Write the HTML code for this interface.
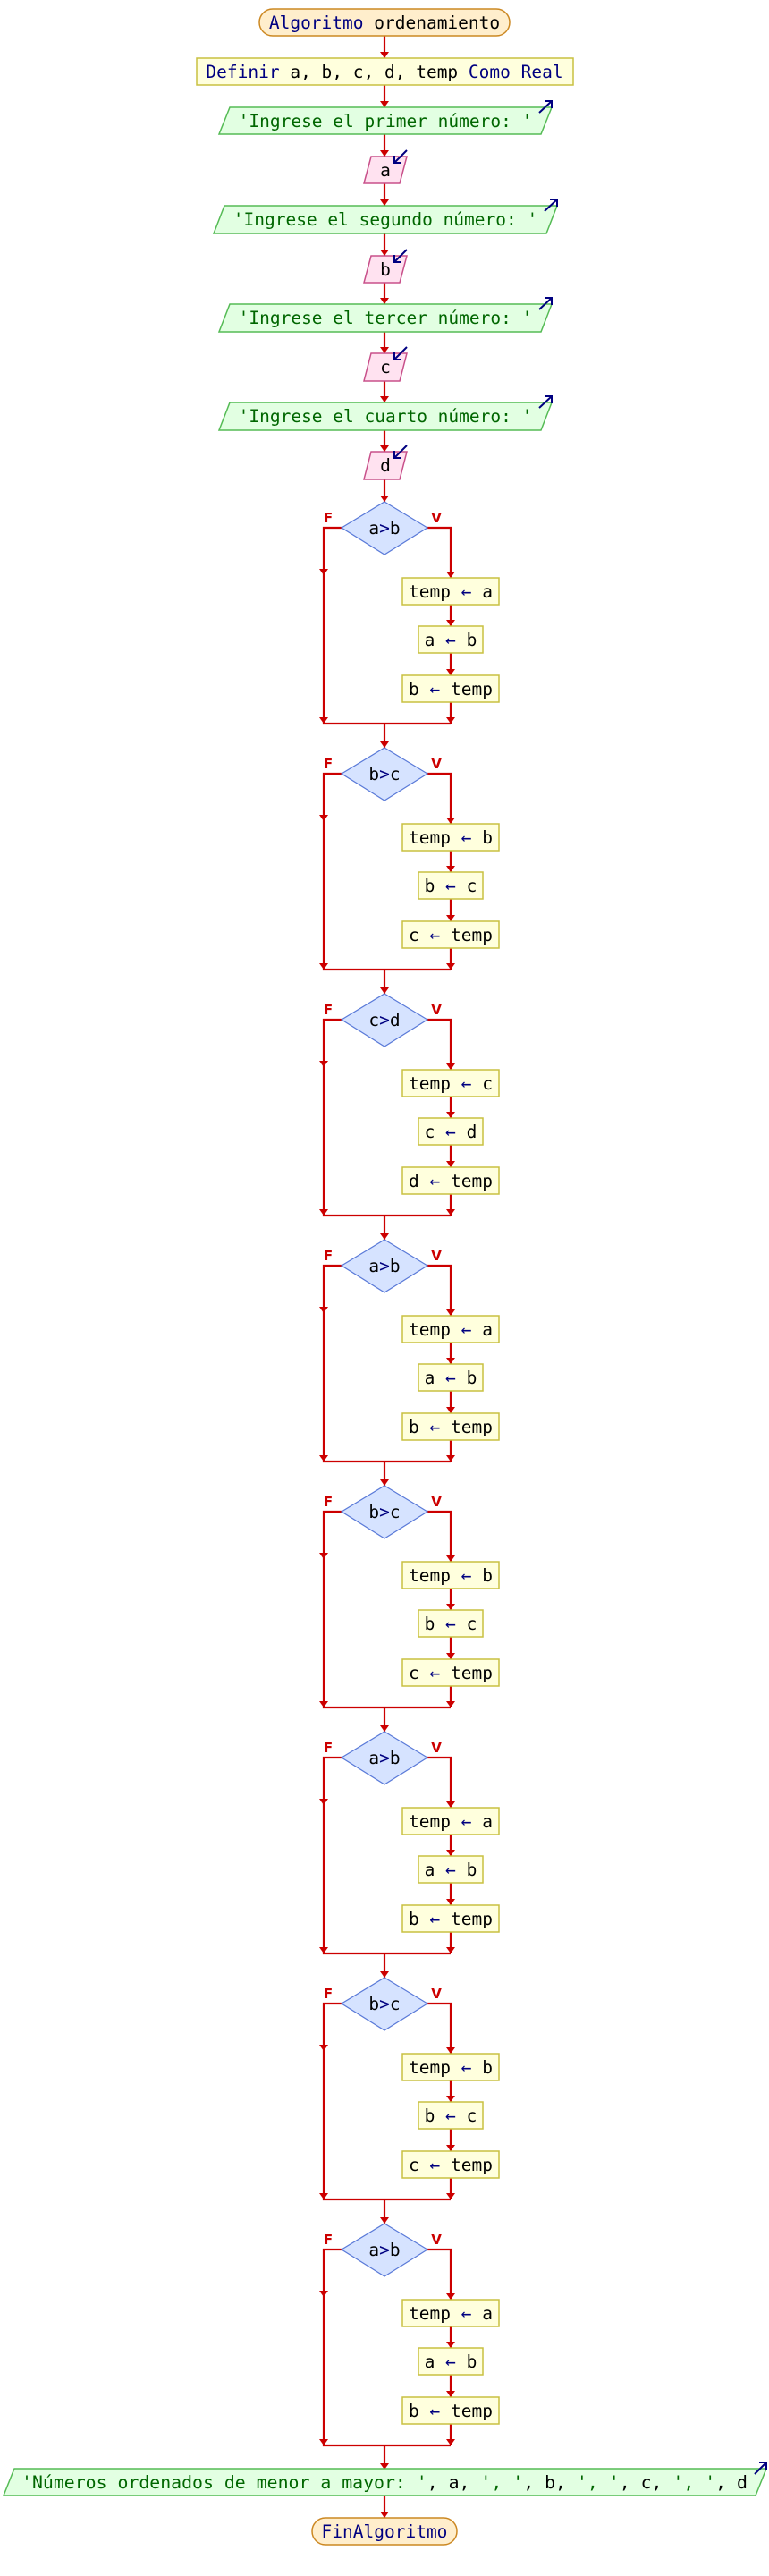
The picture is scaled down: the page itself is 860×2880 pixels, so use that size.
<!DOCTYPE html>
<html><head><meta charset="utf-8"><style>
html,body{margin:0;padding:0;background:#fff}
svg{display:block}
text{font-family:"DejaVu Sans Mono","Liberation Mono",monospace;font-size:19.5px}
.fl{fill:none;stroke:#cc0000;stroke-width:2.2}
.bx{fill:#ffffdd;stroke:#c8c040;stroke-width:1.5}
.dm{fill:#d6e3ff;stroke:#5a7ad8;stroke-width:1.2}
.out{fill:#e2ffe2;stroke:#55bb55;stroke-width:1.5}
.inp{fill:#ffe2f0;stroke:#c8508a;stroke-width:1.5}
.ov{fill:#ffeecc;stroke:#cc8822;stroke-width:1.5}
.k{fill:#000080}
.g{fill:#006600}
.lb{fill:#cc0000;font-family:"DejaVu Sans","Liberation Sans",sans-serif;font-weight:bold;font-size:15px}
.ar{stroke:#000080;stroke-width:2;fill:none}
</style></head><body>
<svg width="860" height="2880" viewBox="0 0 860 2880" xmlns="http://www.w3.org/2000/svg">
<defs>
<marker id="ah" markerWidth="10" markerHeight="8" refX="5" refY="7" orient="auto" markerUnits="userSpaceOnUse" viewBox="0 0 10 8">
</marker>
<path id="tri" d="M-5,-7 L5,-7 L0,0 Z" fill="#cc0000"/>
<g id="blk">
  <path class="fl" d="M382,0 H362 V219 H504 M478,0 H504 V56 M504,86 V110 M504,140 V165 M504,195 V219 M430,219 V246"/>
  <use href="#tri" x="362" y="53"/>
  <use href="#tri" x="362" y="219"/>
  <use href="#tri" x="504" y="56"/>
  <use href="#tri" x="504" y="110"/>
  <use href="#tri" x="504" y="165"/>
  <use href="#tri" x="504" y="219"/>
  <use href="#tri" x="430" y="246"/>
  <polygon class="dm" points="430,-29 478,0 430,30 382,0"/>
  <rect class="bx" x="450" y="56" width="108" height="30"/>
  <rect class="bx" x="468" y="110" width="72" height="30"/>
  <rect class="bx" x="450" y="165" width="108" height="30"/>
  <text class="lb" x="367" y="-6" text-anchor="middle">F</text>
  <text class="lb" x="488" y="-6" text-anchor="middle">V</text>
</g>
</defs>

<!-- top section -->
<path class="fl" d="M430,40 V65 M430,95 V120 M430,150 V175 M430,205 V230 M430,261 V286 M430,316 V340 M430,371 V395 M430,426 V450 M430,481 V505 M430,536 V561"/>
<use href="#tri" x="430" y="65"/><use href="#tri" x="430" y="120"/><use href="#tri" x="430" y="175"/>
<use href="#tri" x="430" y="230"/><use href="#tri" x="430" y="286"/><use href="#tri" x="430" y="340"/>
<use href="#tri" x="430" y="395"/><use href="#tri" x="430" y="450"/><use href="#tri" x="430" y="505"/>
<use href="#tri" x="430" y="561"/>

<rect class="ov" x="290" y="10" width="280" height="30" rx="15"/>
<text x="430" y="32" text-anchor="middle"><tspan class="k">Algoritmo</tspan> ordenamiento</text>

<rect class="bx" x="220" y="65" width="421" height="30"/>
<text x="430" y="87" text-anchor="middle"><tspan class="k">Definir</tspan> a, b, c, d, temp <tspan class="k">Como Real</tspan></text>

<polygon class="out" points="257,120 617,120 605,150 245,150"/>
<text class="g" x="431" y="142" text-anchor="middle">'Ingrese el primer número: '</text>
<path class="ar" d="M603,126 L617,113 M609,113 H617 V121"/>

<polygon class="inp" points="415,175 455,175 447,205 407,205"/>
<text x="431" y="197" text-anchor="middle">a</text>
<path class="ar" d="M455,168 L441,182 M441,174 V182 H449"/>

<polygon class="out" points="251,230 623,230 611,261 239,261"/>
<text class="g" x="431" y="252" text-anchor="middle">'Ingrese el segundo número: '</text>
<path class="ar" d="M609,236 L623,223 M615,223 H623 V231"/>

<polygon class="inp" points="415,286 455,286 447,316 407,316"/>
<text x="431" y="308" text-anchor="middle">b</text>
<path class="ar" d="M455,279 L441,293 M441,285 V293 H449"/>

<polygon class="out" points="257,340 617,340 605,371 245,371"/>
<text class="g" x="431" y="362" text-anchor="middle">'Ingrese el tercer número: '</text>
<path class="ar" d="M603,346 L617,333 M609,333 H617 V341"/>

<polygon class="inp" points="415,395 455,395 447,426 407,426"/>
<text x="431" y="417" text-anchor="middle">c</text>
<path class="ar" d="M455,388 L441,402 M441,394 V402 H449"/>

<polygon class="out" points="257,450 617,450 605,481 245,481"/>
<text class="g" x="431" y="472" text-anchor="middle">'Ingrese el cuarto número: '</text>
<path class="ar" d="M603,456 L617,443 M609,443 H617 V451"/>

<polygon class="inp" points="415,505 455,505 447,536 407,536"/>
<text x="431" y="527" text-anchor="middle">d</text>
<path class="ar" d="M455,498 L441,512 M441,504 V512 H449"/>

<!-- blocks -->
<g transform="translate(0,590)"><use href="#blk"/>
<text x="430" y="7" text-anchor="middle">a<tspan class="k">&gt;</tspan>b</text>
<text x="504" y="78" text-anchor="middle">temp <tspan class="k">←</tspan> a</text>
<text x="504" y="132" text-anchor="middle">a <tspan class="k">←</tspan> b</text>
<text x="504" y="187" text-anchor="middle">b <tspan class="k">←</tspan> temp</text></g>

<g transform="translate(0,865)"><use href="#blk"/>
<text x="430" y="7" text-anchor="middle">b<tspan class="k">&gt;</tspan>c</text>
<text x="504" y="78" text-anchor="middle">temp <tspan class="k">←</tspan> b</text>
<text x="504" y="132" text-anchor="middle">b <tspan class="k">←</tspan> c</text>
<text x="504" y="187" text-anchor="middle">c <tspan class="k">←</tspan> temp</text></g>

<g transform="translate(0,1140)"><use href="#blk"/>
<text x="430" y="7" text-anchor="middle">c<tspan class="k">&gt;</tspan>d</text>
<text x="504" y="78" text-anchor="middle">temp <tspan class="k">←</tspan> c</text>
<text x="504" y="132" text-anchor="middle">c <tspan class="k">←</tspan> d</text>
<text x="504" y="187" text-anchor="middle">d <tspan class="k">←</tspan> temp</text></g>

<g transform="translate(0,1415)"><use href="#blk"/>
<text x="430" y="7" text-anchor="middle">a<tspan class="k">&gt;</tspan>b</text>
<text x="504" y="78" text-anchor="middle">temp <tspan class="k">←</tspan> a</text>
<text x="504" y="132" text-anchor="middle">a <tspan class="k">←</tspan> b</text>
<text x="504" y="187" text-anchor="middle">b <tspan class="k">←</tspan> temp</text></g>

<g transform="translate(0,1690)"><use href="#blk"/>
<text x="430" y="7" text-anchor="middle">b<tspan class="k">&gt;</tspan>c</text>
<text x="504" y="78" text-anchor="middle">temp <tspan class="k">←</tspan> b</text>
<text x="504" y="132" text-anchor="middle">b <tspan class="k">←</tspan> c</text>
<text x="504" y="187" text-anchor="middle">c <tspan class="k">←</tspan> temp</text></g>

<g transform="translate(0,1965)"><use href="#blk"/>
<text x="430" y="7" text-anchor="middle">a<tspan class="k">&gt;</tspan>b</text>
<text x="504" y="78" text-anchor="middle">temp <tspan class="k">←</tspan> a</text>
<text x="504" y="132" text-anchor="middle">a <tspan class="k">←</tspan> b</text>
<text x="504" y="187" text-anchor="middle">b <tspan class="k">←</tspan> temp</text></g>

<g transform="translate(0,2240)"><use href="#blk"/>
<text x="430" y="7" text-anchor="middle">b<tspan class="k">&gt;</tspan>c</text>
<text x="504" y="78" text-anchor="middle">temp <tspan class="k">←</tspan> b</text>
<text x="504" y="132" text-anchor="middle">b <tspan class="k">←</tspan> c</text>
<text x="504" y="187" text-anchor="middle">c <tspan class="k">←</tspan> temp</text></g>

<g transform="translate(0,2515)"><use href="#blk"/>
<text x="430" y="7" text-anchor="middle">a<tspan class="k">&gt;</tspan>b</text>
<text x="504" y="78" text-anchor="middle">temp <tspan class="k">←</tspan> a</text>
<text x="504" y="132" text-anchor="middle">a <tspan class="k">←</tspan> b</text>
<text x="504" y="187" text-anchor="middle">b <tspan class="k">←</tspan> temp</text></g>

<!-- final -->
<path class="fl" d="M430,2790 V2815"/>
<use href="#tri" x="430" y="2815"/>
<polygon class="out" points="16,2760 857,2760 845,2790 4,2790"/>
<text x="430" y="2782" text-anchor="middle" textLength="812" lengthAdjust="spacingAndGlyphs"><tspan class="g">'Números ordenados de menor a mayor: '</tspan>, a, <tspan class="g">', '</tspan>, b, <tspan class="g">', '</tspan>, c, <tspan class="g">', '</tspan>, d</text>
<path class="ar" d="M844,2766 L857,2753 M849,2753 H857 V2761"/>

<rect class="ov" x="349" y="2815" width="162" height="30" rx="15"/>
<text class="k" x="430" y="2837" text-anchor="middle">FinAlgoritmo</text>
</svg>
</body></html>
